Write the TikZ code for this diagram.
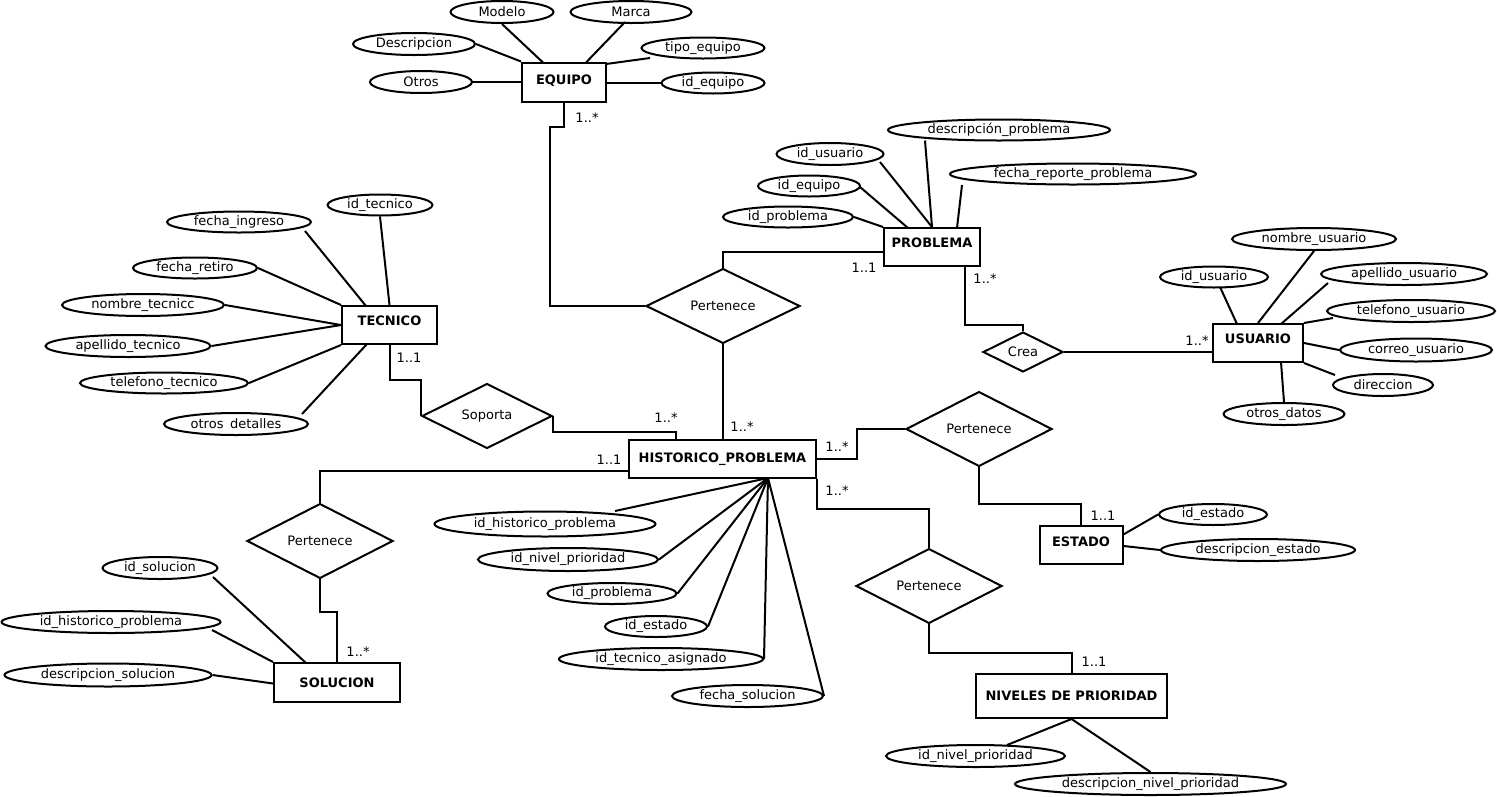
\documentclass[tikz,border=0pt]{standalone}
\usepackage{fontspec}
\setmainfont{DejaVu Sans}
\usetikzlibrary{shapes.geometric,calc}
\begin{document}
\begin{tikzpicture}[x=1pt,y=-1pt,
  every node/.style={font=\fontsize{13}{15}\selectfont},
  ent/.style={draw,rectangle,line width=2pt,inner sep=0pt,font=\fontsize{13}{15}\selectfont\bfseries},
  attr/.style={draw,ellipse,line width=2pt,inner sep=0pt,minimum height=22pt},
  rel/.style={draw,diamond,line width=2pt,inner sep=0pt},
  card/.style={inner sep=0pt},
  link/.style={line width=2pt},
]
\useasboundingbox (0,0) rectangle (1497,796);

% ---------------- entities
\node[ent,minimum width=84pt,minimum height=39pt,text depth=5pt] (equipo) at (564,82) {EQUIPO};
\node[ent,minimum width=96pt,minimum height=38pt,text depth=8pt] (problema) at (932,247) {PROBLEMA};
\node[ent,minimum width=90pt,minimum height=38pt,text depth=9pt] (usuario) at (1258,343) {USUARIO};
\node[ent,minimum width=95pt,minimum height=38pt,text depth=9pt] (tecnico) at (389.5,325) {TECNICO};
\node[ent,minimum width=187pt,minimum height=38pt] (hist) at (722.5,459) {HISTORICO\_PROBLEMA};
\node[ent,minimum width=126pt,minimum height=39pt] (solucion) at (337,682.5) {SOLUCION};
\node[ent,minimum width=83pt,minimum height=38pt,text depth=6pt] (estado) at (1081,545) {ESTADO};
\node[ent,minimum width=191pt,minimum height=44pt] (niveles) at (1071.5,696) {NIVELES DE PRIORIDAD};

% ---------------- relationships
\node[rel,minimum width=154pt,minimum height=67pt] (pert1) at (723,306) {Pertenece};
\node[rel,minimum width=80pt,minimum height=40pt] (crea) at (1023,352) {Crea};
\node[rel,minimum width=130pt,minimum height=65pt] (soporta) at (487,416) {Soporta};
\node[rel,minimum width=146pt,minimum height=71pt] (pertsol) at (320,541) {Pertenece};
\node[rel,minimum width=146pt,minimum height=72pt] (pertestado) at (979,429) {Pertenece};
\node[rel,minimum width=146pt,minimum height=72pt] (pertniv) at (929,586) {Pertenece};

% ---------------- EQUIPO attributes
\node[attr,minimum width=103pt] (modelo) at (502,12) {Modelo};
\node[attr,minimum width=121pt] (marca) at (631,12) {Marca};
\node[attr,minimum width=122pt] (descripcion) at (414,44) {Descripcion};
\node[attr,minimum width=123pt,minimum height=21pt] (tipoeq) at (703,48) {tipo\_equipo};
\node[attr,minimum width=102pt] (otros) at (421,82) {Otros};
\node[attr,minimum width=103pt,minimum height=21pt] (idequipo) at (713,83) {id\_equipo};

\draw[link] (modelo.south) -- ($(equipo)+(-21,-19.5)$);
\draw[link] ($(marca)+(-6,10)$) -- ($(equipo)+(22,-19.5)$);
\draw[link] (descripcion.east) -- (equipo.north west);
\draw[link] ($(tipoeq)+(-53,10)$) -- ($(equipo)+(42,-18)$);
\draw[link] (otros.east) -- (equipo.west);
\draw[link] (idequipo.west) -- (idequipo.west -| equipo.east);

% ---------------- PROBLEMA attributes
\node[attr,minimum width=222pt,minimum height=21pt] (descprob) at (999,130) {descripción\_problema};
\node[attr,minimum width=107pt] (idusuario1) at (830,154) {id\_usuario};
\node[attr,minimum width=102pt,minimum height=21pt] (idequipo2) at (809,186) {id\_equipo};
\node[attr,minimum width=130pt,minimum height=21pt] (idproblema) at (788,217) {id\_problema};
\node[attr,minimum width=246pt,minimum height=21pt] (fecharep) at (1073,174) {fecha\_reporte\_problema};

\draw[link] ($(descprob)+(-74,10.5)$) -- (problema.north);
\draw[link] ($(idusuario1)+(50,8)$) -- (problema.north);
\draw[link] ($(idequipo2)+(51,1)$) -- ($(problema)+(-24,-19)$);
\draw[link] (idproblema.east) -- (problema.north west);
\draw[link] ($(fecharep)+(-111,11)$) -- ($(problema)+(25,-19)$);

% ---------------- USUARIO attributes
\node[attr,minimum width=164pt] (nombreusu) at (1314,239) {nombre\_usuario};
\node[attr,minimum width=108pt,minimum height=21pt] (idusuario2) at (1214,277) {id\_usuario};
\node[attr,minimum width=166pt] (apellidousu) at (1404,274) {apellido\_usuario};
\node[attr,minimum width=168pt] (telusu) at (1411,311) {telefono\_usuario};
\node[attr,minimum width=152pt,minimum height=23pt] (correousu) at (1416,350) {correo\_usuario};
\node[attr,minimum width=100pt] (direccion) at (1383,385) {direccion};
\node[attr,minimum width=121pt] (otrosdatos) at (1284,414) {otros\_datos};

\draw[link] ($(idusuario2)+(6,10)$) -- ($(usuario)+(-21,-19)$);
\draw[link] (nombreusu.south) -- (usuario.north);
\draw[link] ($(apellidousu)+(-76,9)$) -- ($(usuario)+(23,-19)$);
\draw[link] ($(telusu)+(-78,7)$) -- (usuario.north east);
\draw[link] (correousu.west) -- (usuario.east);
\draw[link] ($(direccion)+(-48,-10)$) -- (usuario.south east);
\draw[link] (otrosdatos.north) -- ($(usuario)+(23,19)$);

% ---------------- TECNICO attributes
\node[attr,minimum width=105pt,minimum height=21pt] (idtec) at (380,205) {id\_tecnico};
\node[attr,minimum width=144pt,minimum height=21pt] (fechaing) at (239,222) {fecha\_ingreso};
\node[attr,minimum width=124pt,minimum height=21pt] (fecharet) at (195,268) {fecha\_retiro};
\node[attr,minimum width=162pt] (nombretec) at (143,305) {nombre\_tecnicc};
\node[attr,minimum width=165pt] (apellidotec) at (128,346) {apellido\_tecnico};
\node[attr,minimum width=168pt,minimum height=21pt] (teltec) at (164,383) {telefono\_tecnico};
\node[attr,minimum width=144pt] (otrosdet) at (236,424) {otros\enspace detalles};

\draw[link] (idtec.south) -- (tecnico.north);
\draw[link] ($(fechaing)+(66,9)$) -- ($(tecnico)+(-23.5,-19)$);
\draw[link] (fecharet.east) -- (tecnico.north west);
\draw[link] (nombretec.east) -- (tecnico.west);
\draw[link] (apellidotec.east) -- (tecnico.west);
\draw[link] (teltec.east) -- (tecnico.south west);
\draw[link] ($(otrosdet)+(66,-10)$) -- ($(tecnico)+(-22.5,19)$);

% ---------------- HISTORICO_PROBLEMA attributes
\coordinate (hp) at ($(hist)+(45.5,19)$);
\node[attr,minimum width=221pt,minimum height=25pt] (idhist) at (545,524) {id\_historico\_problema};
\node[attr,minimum width=180pt,minimum height=23pt] (idnivel) at (568,559.5) {id\_nivel\_prioridad};
\node[attr,minimum width=129pt,minimum height=21pt] (idprob2) at (612,593.5) {id\_problema};
\node[attr,minimum width=102pt,minimum height=21pt] (idestado) at (656,626.5) {id\_estado};
\node[attr,minimum width=204pt] (idtecasig) at (661,659) {id\_tecnico\_asignado};
\node[attr,minimum width=151pt] (fechasol) at (747.5,696) {fecha\_solucion};

\draw[link] ($(idhist)+(70,-13)$) -- (hp);
\draw[link] (idnivel.east) -- (hp);
\draw[link] (idprob2.east) -- (hp);
\draw[link] (idestado.east) -- (hp);
\draw[link] (idtecasig.east) -- (hp);
\draw[link] (fechasol.east) -- (hp);

% ---------------- SOLUCION attributes
\node[attr,minimum width=115pt] (idsol) at (160,568) {id\_solucion};
\node[attr,minimum width=219pt] (idhist2) at (111,622) {id\_historico\_problema};
\node[attr,minimum width=207pt,minimum height=23pt] (descsol) at (108,675) {descripcion\_solucion};

\draw[link] ($(idsol)+(53,9)$) -- ($(solucion)+(-31,-19.5)$);
\draw[link] ($(idhist2)+(101,8)$) -- (solucion.north west);
\draw[link] (descsol.east) -- ($(solucion.west)+(0,1)$);

% ---------------- ESTADO attributes
\node[attr,minimum width=108pt,minimum height=21pt] (idestado2) at (1213,514.5) {id\_estado};
\node[attr,minimum width=194pt] (descestado) at (1258,550) {descripcion\_estado};

\draw[link] ($(estado)+(41.5,-10)$) -- (idestado2.west);
\draw[link] ($(estado.east)+(0,1)$) -- (descestado.west);

% ---------------- NIVELES attributes
\node[attr,minimum width=179pt] (idnivel2) at (975.5,756) {id\_nivel\_prioridad};
\node[attr,minimum width=271pt] (descnivel) at (1150.5,784) {descripcion\_nivel\_prioridad};

\draw[link] (niveles.south) -- ($(idnivel2)+(31.5,-11)$);
\draw[link] (niveles.south) -- (descnivel.north);

% ---------------- relationship connectors
\draw[link] (equipo.south) -- ++(0,24.5) -- ++(-14,0) |- (pert1.west);
\draw[link] (pert1.north) |- ($(problema.west)+(0,5)$);
\draw[link] (pert1.south) -- (pert1.south |- hist.north);
\draw[link] ($(problema.south)+(33,0)$) -- ++(0,58) -| (crea.north);
\draw[link] (crea.east) -- (crea.east -| usuario.west);
\draw[link] (tecnico.south) -- ++(0,35) -| (soporta.west);
\draw[link] (soporta.east) -- ++(0,16) -| ($(hist.north)+(-46.5,0)$);
\draw[link] ($(hist.west)+(0,12)$) -| (pertsol.north);
\draw[link] (pertsol.south) -- ++(0,32.5) -| (solucion.north);
\draw[link] (hist.east) -- ++(40,0) |- (pertestado.west);
\draw[link] (pertestado.south) -- ++(0,37) -| (estado.north);
\draw[link] (hist.south east) -- ++(0,30) -| (pertniv.north);
\draw[link] (pertniv.south) -- ++(0,29) -| (niveles.north);

% ---------------- cardinalities
\node[card] (c1) at (587,118) {1..*};
\node[card] (c2) at (864,268) {1..1};
\node[card] (c3) at (742,427) {1..*};
\node[card] (c4) at (985,279) {1..*};
\node[card] (c5) at (1197,341) {1..*};
\node[card] (c6) at (409,358) {1..1};
\node[card] (c7) at (666,418) {1..*};
\node[card] (c8) at (609,460) {1..1};
\node[card] (c9) at (358,652) {1..*};
\node[card] (c10) at (837,447) {1..*};
\node[card] (c11) at (837,491) {1..*};
\node[card] (c12) at (1103,516) {1..1};
\node[card] (c13) at (1094,662) {1..1};
\end{tikzpicture}
\end{document}
